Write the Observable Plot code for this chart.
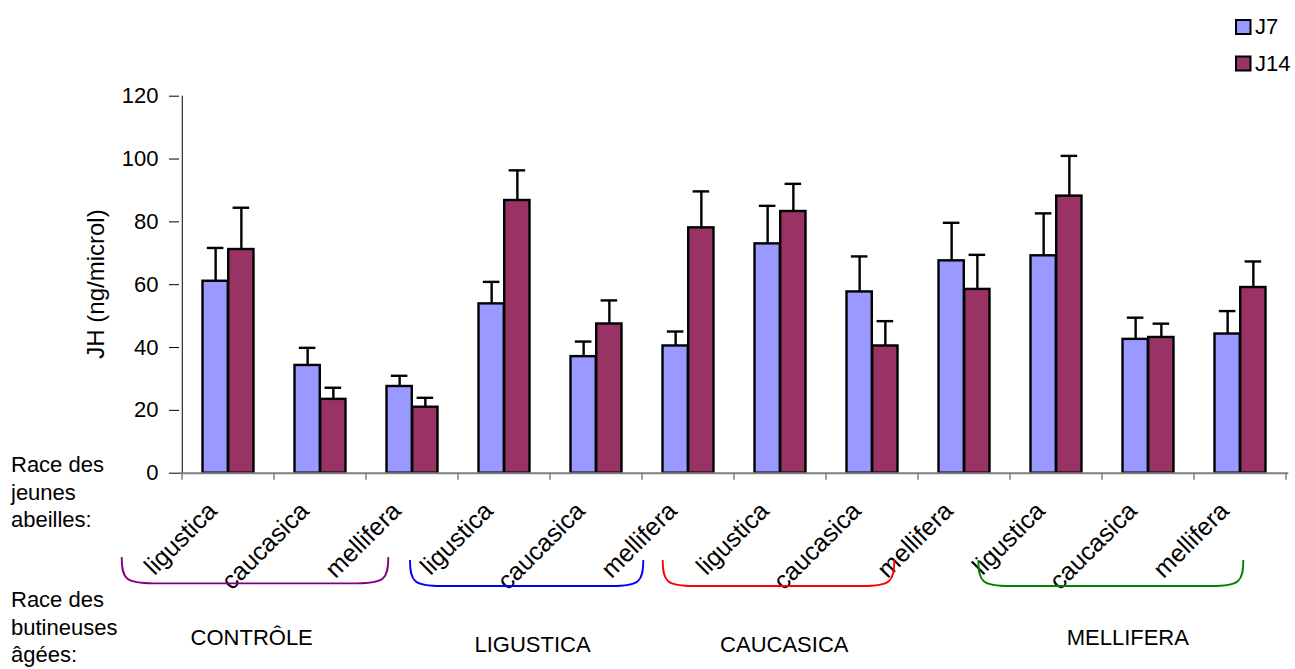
<!DOCTYPE html>
<html><head><meta charset="utf-8">
<script src="https://cdn.jsdelivr.net/npm/d3@7"></script>
<script src="https://cdn.jsdelivr.net/npm/@observablehq/plot@0.6"></script>
<style>
body{margin:0;background:#fff}
#chart{position:relative;width:1295px;height:669px}
</style>
</head><body><div id="chart"></div>
<script>
// ---------- data ----------
const foragerGroups = ["CONTRÔLE", "LIGUSTICA", "CAUCASICA", "MELLIFERA"];
const youngRaces = ["ligustica", "caucasica", "mellifera"];
const seriesNames = ["J7", "J14"];
const j7Mean  = [61.1, 34.3, 27.6, 53.9, 37.1, 40.5, 73.0, 57.7, 67.6, 69.2, 42.6, 44.3];
const j7Upper = [71.7, 39.9, 31.0, 60.9, 41.9, 45.1, 85.1, 69.0, 79.7, 82.7, 49.5, 51.6];
const j14Mean  = [71.2, 23.5, 21.0, 86.8, 47.5, 78.1, 83.3, 40.5, 58.5, 88.2, 43.2, 59.1];
const j14Upper = [84.5, 27.2, 24.0, 96.4, 55.0, 89.7, 92.1, 48.4, 69.5, 101.0, 47.6, 67.4];
const yTicks = [0, 20, 40, 60, 80, 100, 120];
const yLabel = "JH (ng/microl)";
const rowLabelYoung = ["Race des", "jeunes", "abeilles:"];
const rowLabelForager = ["Race des", "butineuses", "âgées:"];
const bracketColors = ["#800080", "#0000ff", "#ff0000", "#008000"];
const seriesColors = ["#9999ff", "#993366"];

// ---------- table ----------
const keys = [];
const rows = [];
foragerGroups.forEach((g, gi) => youngRaces.forEach((r, ri) => {
  const i = gi * 3 + ri;
  const key = g + "|" + r;
  keys.push(key);
  rows.push({key, group: g, race: r, series: "J7", value: j7Mean[i], upper: j7Upper[i]});
  rows.push({key, group: g, race: r, series: "J14", value: j14Mean[i], upper: j14Upper[i]});
}));
const labelRows = keys.map(k => ({key: k, race: k.split("|")[1]}));
const J7 = rows.filter(d => d.series === "J7");
const J14 = rows.filter(d => d.series === "J14");

// ---------- layout ----------
const FONT = "'Liberation Sans', Arial, Helvetica, sans-serif";
const W = 1295, H = 669, mL = 179, mR = 6.7, mT = 95.7, mB = 196.3;
const bw = (W - mL - mR) / keys.length;
const half = bw / 2;
const outer = 20.5;                       // gap between band edge and bar pair
const barOff = (half - outer) / 2;        // bar centre offset from band centre
const capHalf = 8.5;

const chart = Plot.plot({
  width: W, height: H,
  marginLeft: mL, marginRight: mR, marginTop: mT, marginBottom: mB,
  style: {fontFamily: FONT, fontSize: "22px", background: "white", color: "#000", overflow: "visible"},
  x: {type: "band", domain: keys, padding: 0, axis: null},
  y: {domain: [0, 120], axis: null},
  marks: [
    Plot.axisY({ticks: yTicks, tickSize: 10, tickPadding: 11, fontSize: 22, label: null, stroke: "#000", strokeWidth: 1}),
    Plot.barY(J7, {x: "key", y: "value", fill: seriesColors[0], stroke: "#000", strokeWidth: 2.4,
      insetLeft: outer, insetRight: half}),
    Plot.barY(J14, {x: "key", y: "value", fill: seriesColors[1], stroke: "#000", strokeWidth: 2.4,
      insetLeft: half, insetRight: outer}),
    Plot.ruleX(J7, {x: "key", y1: "value", y2: "upper", dx: -barOff, stroke: "#000", strokeWidth: 2.4}),
    Plot.ruleX(J14, {x: "key", y1: "value", y2: "upper", dx: barOff, stroke: "#000", strokeWidth: 2.4}),
    Plot.tickY(J7, {x: "key", y: "upper", stroke: "#000", strokeWidth: 2.4,
      insetLeft: half - barOff - capHalf, insetRight: half + barOff - capHalf}),
    Plot.tickY(J14, {x: "key", y: "upper", stroke: "#000", strokeWidth: 2.4,
      insetLeft: half + barOff - capHalf, insetRight: half - barOff - capHalf}),
    Plot.ruleY([0], {stroke: "#808080", strokeWidth: 2}),
    Plot.ruleX([keys[0]], {x: d => d, dx: -half, y1: 0, y2: 120, stroke: "#000", strokeWidth: 1}),
    Plot.text(labelRows, {x: "key", y: 0, text: "race", rotate: -45, textAnchor: "end",
      dx: -15.8, dy: 33.5, fontSize: 25, fill: "#000"})
  ]
});
document.getElementById("chart").appendChild(chart);

// ---------- annotations (drawn on top using the plot's scales) ----------
const svg = d3.select(chart);
const sx = chart.scale("x");
const sy = chart.scale("y");
const y0 = sy.apply(0);

// x-axis tick marks at the category boundaries
const tickG = svg.append("g").attr("stroke", "#808080").attr("stroke-width", 1.5);
keys.forEach(k => {
  const xs = sx.apply(k);
  tickG.append("line").attr("x1", xs).attr("x2", xs).attr("y1", y0).attr("y2", y0 + 7);
});
{
  const xe = sx.apply(keys[keys.length - 1]) + sx.bandwidth;
  tickG.append("line").attr("x1", xe).attr("x2", xe).attr("y1", y0).attr("y2", y0 + 7);
}

// y-axis title
svg.append("text")
  .attr("transform", "translate(104,284) rotate(-90)")
  .attr("text-anchor", "middle")
  .attr("font-family", FONT).attr("font-size", 24).attr("fill", "#000")
  .text(yLabel);

// row labels on the left
const addLines = (lines, baseY) => {
  const t = svg.append("text").attr("font-family", FONT).attr("font-size", 22)
    .attr("fill", "#000").attr("text-anchor", "start");
  lines.forEach((s, i) => t.append("tspan").attr("x", 11).attr("y", baseY + i * 27.8).text(s));
};
addLines(rowLabelYoung, 471.7);
addLines(rowLabelForager, 606.7);

// brackets and forager-group labels (hand-placed annotation geometry)
const bracketGeom = [
  {x1: 121.7, x2: 388.3, top: 557, bottom: 583.3},
  {x1: 410,   x2: 643.3, top: 560, bottom: 586},
  {x1: 662.7, x2: 894.3, top: 560, bottom: 586},
  {x1: 978.3, x2: 1243.3, top: 560, bottom: 586}
];
const groupLabelPos = [
  {x: 251.7, y: 645}, {x: 532.5, y: 651.7}, {x: 784.3, y: 651.7}, {x: 1127.8, y: 645}
];
foragerGroups.forEach((g, i) => {
  const b = bracketGeom[i], r = 20;
  const p = `M${b.x1},${b.top} C${b.x1},${b.bottom - r * 0.2} ${b.x1 + 4},${b.bottom} ${b.x1 + r * 1.6},${b.bottom}`
    + ` L${b.x2 - r * 1.6},${b.bottom} C${b.x2 - 4},${b.bottom} ${b.x2},${b.bottom - r * 0.2} ${b.x2},${b.top}`;
  svg.append("path").attr("d", p).attr("fill", "none").attr("stroke", bracketColors[i]).attr("stroke-width", 1.8);
  svg.append("text").attr("x", groupLabelPos[i].x).attr("y", groupLabelPos[i].y)
    .attr("text-anchor", "middle").attr("font-family", FONT).attr("font-size", 22).attr("fill", "#000")
    .text(g);
});

// legend
const legend = svg.append("g");
seriesNames.forEach((s, i) => {
  const yTop = 20 + i * 36.5;
  legend.append("rect").attr("x", 1236).attr("y", yTop).attr("width", 14.5).attr("height", 14)
    .attr("fill", seriesColors[i]).attr("stroke", "#000").attr("stroke-width", 2);
  legend.append("text").attr("x", 1255).attr("y", yTop + 14).attr("text-anchor", "start")
    .attr("font-family", FONT).attr("font-size", 22).attr("fill", "#000").text(s);
});
</script>
</body></html>
